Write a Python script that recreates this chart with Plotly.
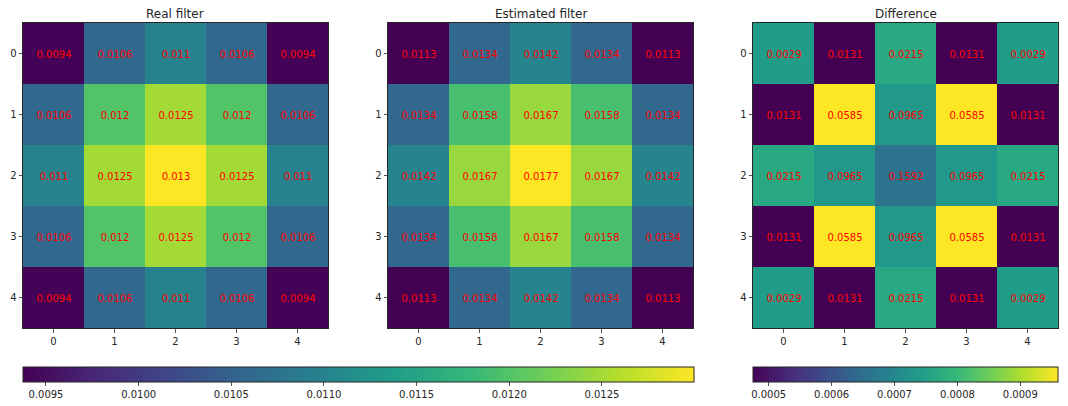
import plotly.graph_objects as go

# ---- data ----
rows = [0, 1, 2, 3, 4]
cols = [0, 1, 2, 3, 4]

real_vals = [
    [0.0094, 0.0106, 0.0110, 0.0106, 0.0094],
    [0.0106, 0.0120, 0.0125, 0.0120, 0.0106],
    [0.0110, 0.0125, 0.0130, 0.0125, 0.0110],
    [0.0106, 0.0120, 0.0125, 0.0120, 0.0106],
    [0.0094, 0.0106, 0.0110, 0.0106, 0.0094],
]
real_labels = [
    ["0.0094", "0.0106", "0.011", "0.0106", "0.0094"],
    ["0.0106", "0.012", "0.0125", "0.012", "0.0106"],
    ["0.011", "0.0125", "0.013", "0.0125", "0.011"],
    ["0.0106", "0.012", "0.0125", "0.012", "0.0106"],
    ["0.0094", "0.0106", "0.011", "0.0106", "0.0094"],
]

est_vals = [
    [0.0113, 0.0134, 0.0142, 0.0134, 0.0113],
    [0.0134, 0.0158, 0.0167, 0.0158, 0.0134],
    [0.0142, 0.0167, 0.0177, 0.0167, 0.0142],
    [0.0134, 0.0158, 0.0167, 0.0158, 0.0134],
    [0.0113, 0.0134, 0.0142, 0.0134, 0.0113],
]
est_labels = [
    ["0.0113", "0.0134", "0.0142", "0.0134", "0.0113"],
    ["0.0134", "0.0158", "0.0167", "0.0158", "0.0134"],
    ["0.0142", "0.0167", "0.0177", "0.0167", "0.0142"],
    ["0.0134", "0.0158", "0.0167", "0.0158", "0.0134"],
    ["0.0113", "0.0134", "0.0142", "0.0134", "0.0113"],
]

# colour values of the difference panel
diff_colors = [
    [0.000742, 0.000475, 0.000766, 0.000475, 0.000742],
    [0.000475, 0.000960, 0.000732, 0.000960, 0.000475],
    [0.000766, 0.000732, 0.000659, 0.000732, 0.000766],
    [0.000475, 0.000960, 0.000732, 0.000960, 0.000475],
    [0.000742, 0.000475, 0.000766, 0.000475, 0.000742],
]
diff_labels = [
    ["0.0029", "0.0131", "0.0215", "0.0131", "0.0029"],
    ["0.0131", "0.0585", "0.0965", "0.0585", "0.0131"],
    ["0.0215", "0.0965", "0.1592", "0.0965", "0.0215"],
    ["0.0131", "0.0585", "0.0965", "0.0585", "0.0131"],
    ["0.0029", "0.0131", "0.0215", "0.0131", "0.0029"],
]

titles = ["Real filter", "Estimated filter", "Difference"]

real_range = [0.009376, 0.012997]
est_range = [0.0113, 0.0177]
diff_range = [0.000475, 0.000960]

real_ticks = [0.0095, 0.0100, 0.0105, 0.0110, 0.0115, 0.0120, 0.0125]
real_ticktext = ["0.0095", "0.0100", "0.0105", "0.0110", "0.0115", "0.0120", "0.0125"]
diff_ticks = [0.0005, 0.0006, 0.0007, 0.0008, 0.0009]
diff_ticktext = ["0.0005", "0.0006", "0.0007", "0.0008", "0.0009"]

# ---- layout geometry ----
W, H = 1068, 406
FONT = "DejaVu Sans"
AX = "#262626"

def px_x(v):
    return v / W

def px_y(v):
    return 1 - v / H

panels_px = [(23, 328), (388, 693), (753, 1058)]
top_px, bot_px = 23, 328
cb1_px = (23, 694)
cb3_px = (753, 1058)
cb_top_px = 367

cb_common = dict(
    orientation="h", thickness=15, thicknessmode="pixels", lenmode="fraction",
    xanchor="center", yanchor="top", y=px_y(cb_top_px), xpad=0, ypad=0,
    outlinewidth=1, outlinecolor=AX, ticks="outside", ticklen=3.5,
    tickcolor=AX, tickwidth=0.8, tickfont=dict(family=FONT, size=10, color=AX),
)

fig = go.Figure()

fig.add_trace(go.Heatmap(
    z=real_vals, x=cols, y=rows, text=real_labels, texttemplate="%{text}",
    textfont=dict(family=FONT, size=10, color="red"),
    colorscale="Viridis", zmin=real_range[0], zmax=real_range[1],
    xaxis="x", yaxis="y", hoverinfo="skip",
    colorbar=dict(cb_common, x=(px_x(cb1_px[0]) + px_x(cb1_px[1])) / 2,
                  len=(cb1_px[1] - cb1_px[0]) / W,
                  tickvals=real_ticks, ticktext=real_ticktext),
))
fig.add_trace(go.Heatmap(
    z=est_vals, x=cols, y=rows, text=est_labels, texttemplate="%{text}",
    textfont=dict(family=FONT, size=10, color="red"),
    colorscale="Viridis", zmin=est_range[0], zmax=est_range[1],
    xaxis="x2", yaxis="y2", hoverinfo="skip", showscale=False,
))
fig.add_trace(go.Heatmap(
    z=diff_colors, x=cols, y=rows, text=diff_labels, texttemplate="%{text}",
    textfont=dict(family=FONT, size=10, color="red"),
    colorscale="Viridis", zmin=diff_range[0], zmax=diff_range[1],
    xaxis="x3", yaxis="y3", hoverinfo="skip",
    colorbar=dict(cb_common, x=(px_x(cb3_px[0]) + px_x(cb3_px[1])) / 2,
                  len=(cb3_px[1] - cb3_px[0]) / W,
                  tickvals=diff_ticks, ticktext=diff_ticktext),
))

axis_common = dict(
    tickmode="array", tickvals=[0, 1, 2, 3, 4], ticktext=["0", "1", "2", "3", "4"],
    ticks="outside", ticklen=3.5, tickwidth=0.8, tickcolor=AX,
    showgrid=False, zeroline=False, showline=True, mirror=True,
    linecolor=AX, linewidth=1, tickfont=dict(family=FONT, size=10, color=AX),
    automargin=False,
)

layout = dict(
    width=W, height=H, margin=dict(l=0, r=0, t=0, b=0, autoexpand=False),
    paper_bgcolor="white", plot_bgcolor="white", showlegend=False,
    font=dict(family=FONT, color=AX),
)
ydom = [px_y(bot_px), px_y(top_px)]
annotations = []
for i, (l, r) in enumerate(panels_px):
    sx = "" if i == 0 else str(i + 1)
    layout["xaxis" + sx] = dict(axis_common, domain=[px_x(l), px_x(r)], range=[-0.5, 4.5],
                                anchor="y" + sx)
    layout["yaxis" + sx] = dict(axis_common, domain=ydom, range=[4.5, -0.5],
                                anchor="x" + sx)
    annotations.append(dict(
        text=titles[i], x=(px_x(l) + px_x(r)) / 2, y=px_y(14), xref="paper", yref="paper",
        xanchor="center", yanchor="middle", showarrow=False,
        font=dict(family=FONT, size=12, color=AX),
    ))
layout["annotations"] = annotations
fig.update_layout(**layout)

fig.write_html(
    "out.html",
    config={"displayModeBar": False, "staticPlot": True},
    post_script="document.body.style.margin='0';document.body.style.overflow='hidden';",
)
